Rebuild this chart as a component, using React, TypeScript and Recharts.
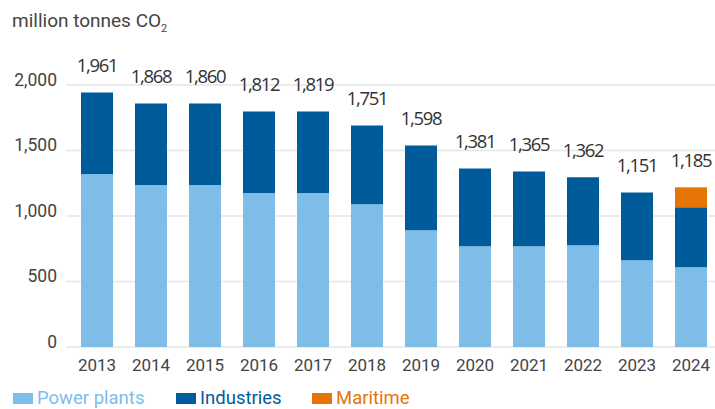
import { BarChart, Bar, XAxis, YAxis, CartesianGrid, Legend, LabelList } from "recharts";

const years = ["2013", "2014", "2015", "2016", "2017", "2018", "2019", "2020", "2021", "2022", "2023", "2024"];
const powerPlants = [1320, 1236, 1236, 1175, 1175, 1089, 891, 769, 769, 777, 663, 609];
const industries = [622, 622, 622, 622, 622, 602, 647, 594, 571, 518, 517, 457];
const maritime = [0, 0, 0, 0, 0, 0, 0, 0, 0, 0, 0, 153];
const totals = [1961, 1868, 1860, 1812, 1819, 1751, 1598, 1381, 1365, 1362, 1151, 1185];
const yTicks = [0, 500, 1000, 1500, 2000];

const seriesInfo = [
  { key: "power", name: "Power plants", color: "#7dbde8" },
  { key: "industries", name: "Industries", color: "#005b9b" },
  { key: "maritime", name: "Maritime", color: "#e67508" },
];

const data = years.map((year, i) => ({
  year,
  power: powerPlants[i],
  industries: industries[i],
  maritime: maritime[i],
  total: totals[i],
}));

const fmt = (v: number) => v.toLocaleString("en-US");

function YTick(props: any) {
  const { y, payload } = props;
  return (
    <text x={57} y={y - 5.5} dy="0.35em" textAnchor="end" fill="#444" fontSize={17.5} fontFamily="Roboto">
      {fmt(payload.value)}
    </text>
  );
}

function XTick(props: any) {
  const { x, y, payload } = props;
  return (
    <text x={x} y={y + 10} dy="0.35em" textAnchor="middle" fill="#444" fontSize={17} fontFamily="Roboto">
      {payload.value}
    </text>
  );
}

// total label sits on top of whichever segment is topmost
function makeTotalLabel(onlyWhenNoMaritime: boolean) {
  return function TotalLabel(props: any) {
    const { x, y, width, value, index } = props;
    if (onlyWhenNoMaritime && maritime[index] > 0) return null;
    return (
      <text
        x={x + width / 2}
        y={y - 27}
        dy="0.35em"
        textAnchor="middle"
        fill="#333"
        fontSize={18.5}
        letterSpacing={-1.3}
        fontFamily="Open Sans"
      >
        {fmt(value)}
      </text>
    );
  };
}

const IndustryTotal = makeTotalLabel(true);
const MaritimeTotal = makeTotalLabel(false);

const legendLeft = [13, 176, 312];

function LegendContent() {
  return (
    <div style={{ position: "relative", height: 20, width: 715 }}>
      {seriesInfo.map((s, i) => (
        <div
          key={s.key}
          style={{
            position: "absolute",
            left: legendLeft[i],
            top: 0,
            display: "flex",
            alignItems: "center",
            fontFamily: "Roboto",
            fontSize: 18.5,
            color: s.color,
            lineHeight: "20px",
          }}
        >
          <span style={{ display: "inline-block", width: 20, height: 11, background: s.color, marginRight: 4 }} />
          {s.name}
        </div>
      ))}
    </div>
  );
}

export default function App() {
  return (
    <div style={{ position: "absolute", left: 0, top: 0, width: 715, height: 409, overflow: "hidden", background: "#fff" }}>
      <div
        style={{
          position: "absolute",
          left: 12,
          top: 9,
          fontFamily: "Roboto",
          fontSize: 19,
          color: "#444",
          whiteSpace: "nowrap",
        }}
      >
        million tonnes CO<sub style={{ fontSize: 11 }}>2</sub>
      </div>
      <BarChart
        width={718}
        height={409}
        data={data}
        margin={{ top: 85, right: 0, bottom: 18, left: 0 }}
        barSize={32}
      >
        <CartesianGrid vertical={false} stroke="#e6e6e6" strokeWidth={1.5} />
        <XAxis
          dataKey="year"
          axisLine={false}
          tickLine={false}
          tick={<XTick />}
          height={24}
          padding={{ left: 4, right: 0 }}
          interval={0}
        />
        <YAxis
          domain={[0, 2000]}
          ticks={yTicks}
          axisLine={false}
          tickLine={false}
          tick={<YTick />}
          width={66}
        />
        <Legend
          verticalAlign="bottom"
          content={<LegendContent />}
          wrapperStyle={{ left: 0, bottom: 1 }}
        />
        <Bar dataKey="power" name="Power plants" stackId="a" fill="#7dbde8" isAnimationActive={false} />
        <Bar dataKey="industries" name="Industries" stackId="a" fill="#005b9b" isAnimationActive={false}>
          <LabelList dataKey="total" content={<IndustryTotal />} />
        </Bar>
        <Bar dataKey="maritime" name="Maritime" stackId="a" fill="#e67508" isAnimationActive={false}>
          <LabelList dataKey="total" content={<MaritimeTotal />} />
        </Bar>
      </BarChart>
    </div>
  );
}
